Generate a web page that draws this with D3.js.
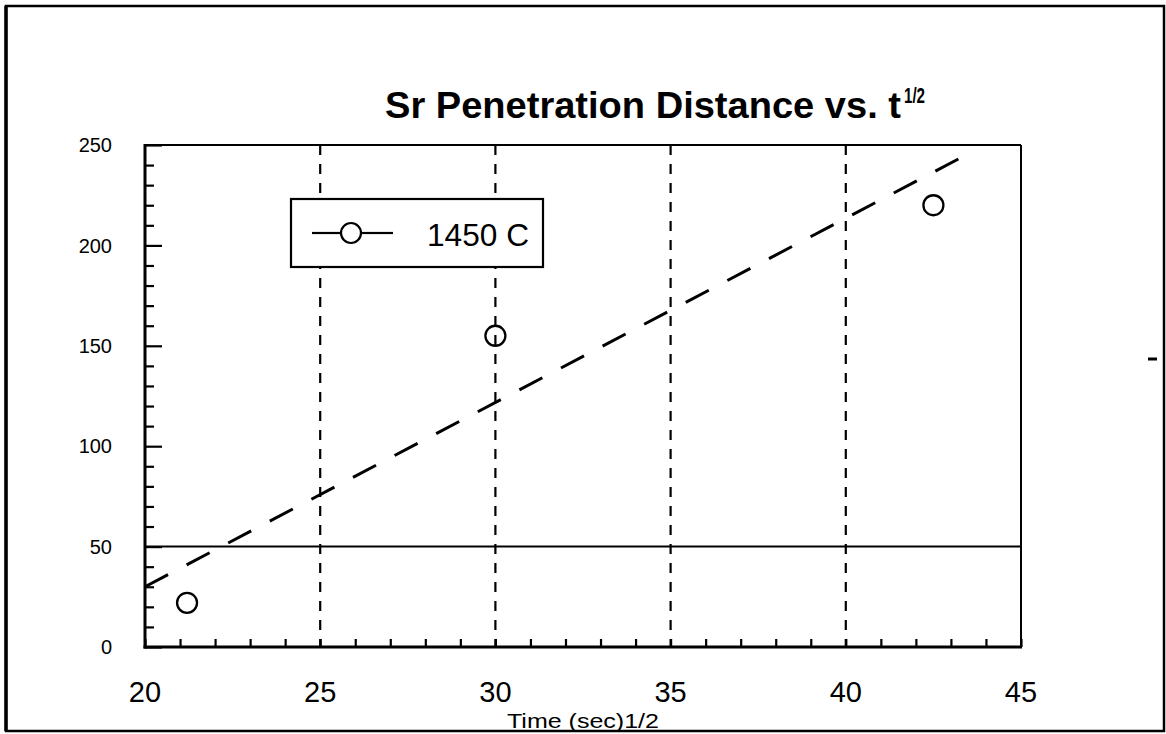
<!DOCTYPE html>
<html>
<head>
<meta charset="utf-8">
<script src="https://cdn.jsdelivr.net/npm/d3@7"></script>
<style>
  html, body { margin: 0; padding: 0; background: #fff; }
  svg { display: block; font-family: "Liberation Sans", Arial, Helvetica, sans-serif; }
</style>
</head>
<body>
<svg id="chart" width="1166" height="734"></svg>
<script>
// ---- data ----
const seriesName = "1450 C";
const timeSqrt = [21.2, 30.0, 42.5];          // x values (sec^1/2)
const penetration = [22, 155, 220];          // y values
const fitX = [20, 43.7];                      // dashed fit line
const fitY = [30, 247.5];
const xTicks = [20, 25, 30, 35, 40, 45];
const yTicks = [0, 50, 100, 150, 200, 250];
const gridX = [25, 30, 35, 40];
const refLineY = [50];
const titleText = "Sr Penetration Distance vs. t";
const titleSup = "1/2";
const xLabel = "Time (sec)1/2";

// ---- layout ----
const svg = d3.select("#chart");
const L = 145, R = 1021, T = 145, B = 647;
const x = d3.scaleLinear().domain([20, 45]).range([L, R]);
const y = d3.scaleLinear().domain([0, 250]).range([B, T]);

// outer frame
svg.append("rect").attr("x", 6).attr("y", 6).attr("width", 1158).attr("height", 725)
  .attr("fill", "none").attr("stroke", "#000").attr("stroke-width", 2.5);
svg.append("line").attr("x1", 6).attr("x2", 6).attr("y1", 6).attr("y2", 731)
  .attr("stroke", "#000").attr("stroke-width", 3.5);

// title
svg.append("text").attr("x", 385).attr("y", 118)
  .attr("font-size", 36).attr("font-weight", "bold")
  .attr("textLength", 516).attr("lengthAdjust", "spacingAndGlyphs").text(titleText);
svg.append("text").attr("x", 904).attr("y", 103).attr("font-size", 22)
  .attr("font-weight", "bold").attr("textLength", 21).attr("lengthAdjust", "spacingAndGlyphs")
  .text(titleSup);

// vertical dashed grid
svg.append("g").selectAll("line").data(gridX).join("line")
  .attr("x1", d => x(d)).attr("x2", d => x(d))
  .attr("y1", T).attr("y2", B)
  .attr("stroke", "#000").attr("stroke-width", 2.2).attr("stroke-dasharray", "10,9");

// horizontal reference line
svg.append("g").selectAll("line").data(refLineY).join("line")
  .attr("x1", L).attr("x2", R).attr("y1", d => y(d)).attr("y2", d => y(d))
  .attr("stroke", "#000").attr("stroke-width", 2);

// y axis (left, inside ticks)
const yAxis = d3.axisRight(y).tickValues(d3.range(0, 251, 10)).tickSize(0).tickFormat("");
const gy = svg.append("g").attr("transform", `translate(${L},0)`).call(yAxis);
gy.select(".domain").remove();
gy.selectAll(".tick line").attr("x2", d => d % 50 === 0 ? 17 : 9)
  .attr("stroke", "#000").attr("stroke-width", 2.2);
svg.append("g").selectAll("text").data(yTicks).join("text")
  .attr("x", 112).attr("y", d => y(d)).attr("dy", "0.36em")
  .attr("text-anchor", "end").attr("font-size", 20).text(d => d);

// x axis (bottom, inside ticks)
const xAxis = d3.axisTop(x).tickValues(d3.range(20, 45.01, 1)).tickSize(0).tickFormat("");
const gx = svg.append("g").attr("transform", `translate(0,${B})`).call(xAxis);
gx.select(".domain").remove();
gx.selectAll(".tick line").attr("y2", -8).attr("stroke", "#000").attr("stroke-width", 2.2);
svg.append("g").selectAll("text").data(xTicks).join("text")
  .attr("x", d => x(d)).attr("y", 702)
  .attr("text-anchor", "middle").attr("font-size", 29).text(d => d);

// plot frame
svg.append("line").attr("x1", L).attr("x2", R).attr("y1", T).attr("y2", T).attr("stroke", "#000").attr("stroke-width", 2);
svg.append("line").attr("x1", R).attr("x2", R).attr("y1", T).attr("y2", B).attr("stroke", "#000").attr("stroke-width", 2);
svg.append("line").attr("x1", L).attr("x2", L).attr("y1", T - 1).attr("y2", B + 1.5).attr("stroke", "#000").attr("stroke-width", 3);
svg.append("line").attr("x1", L - 1.5).attr("x2", R + 1).attr("y1", B).attr("y2", B).attr("stroke", "#000").attr("stroke-width", 3);

// x label
svg.append("text").attr("x", 507).attr("y", 728)
  .attr("font-size", 21).attr("textLength", 152).attr("lengthAdjust", "spacingAndGlyphs").text(xLabel);

// fit line
const fitData = fitX.map((d, i) => [d, fitY[i]]);
svg.append("path").datum(fitData)
  .attr("d", d3.line().x(d => x(d[0])).y(d => y(d[1])))
  .attr("fill", "none").attr("stroke", "#000").attr("stroke-width", 3)
  .attr("stroke-dasharray", "26,21");

// data points
svg.append("g").selectAll("circle").data(timeSqrt.map((d, i) => [d, penetration[i]])).join("circle")
  .attr("cx", d => x(d[0])).attr("cy", d => y(d[1])).attr("r", 10)
  .attr("fill", "none").attr("stroke", "#000").attr("stroke-width", 2.3);

// legend
const lg = svg.append("g");
lg.append("rect").attr("x", 291).attr("y", 199).attr("width", 252).attr("height", 68)
  .attr("fill", "#fff").attr("stroke", "#000").attr("stroke-width", 2.2);
lg.append("line").attr("x1", 312).attr("x2", 341).attr("y1", 233).attr("y2", 233).attr("stroke", "#000").attr("stroke-width", 2.2);
lg.append("line").attr("x1", 361).attr("x2", 393).attr("y1", 233).attr("y2", 233).attr("stroke", "#000").attr("stroke-width", 2.2);
lg.append("circle").attr("cx", 351).attr("cy", 233).attr("r", 10).attr("fill", "none").attr("stroke", "#000").attr("stroke-width", 2.2);
lg.append("text").attr("x", 427).attr("y", 246).attr("font-size", 31)
  .attr("textLength", 102).attr("lengthAdjust", "spacingAndGlyphs").text(seriesName);

// small stray mark at right
svg.append("line").attr("x1", 1148).attr("x2", 1157).attr("y1", 359).attr("y2", 359).attr("stroke", "#000").attr("stroke-width", 3);
</script>
</body>
</html>
